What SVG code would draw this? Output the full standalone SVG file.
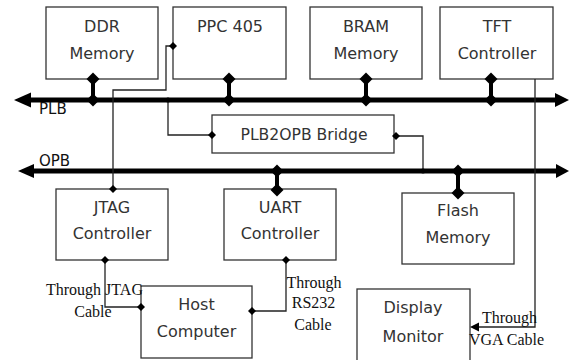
<svg xmlns="http://www.w3.org/2000/svg" width="572" height="360" viewBox="0 0 572 360">
<style>
.box{fill:#fff;stroke:#333;stroke-width:1.3}
.t{font-family:"DejaVu Sans",sans-serif;font-size:16px;fill:#333;text-anchor:middle}
.bl{font-family:"DejaVu Sans",sans-serif;font-size:15px;fill:#111}
.s{font-family:"Liberation Serif","Times New Roman",serif;font-size:16px;fill:#111}
.bus{stroke:#000;stroke-width:5;fill:none}
.stem{stroke:#000;stroke-width:4;fill:none}
.w{stroke:#222;stroke-width:1.3;fill:none}
.k{fill:#000}
</style>
<defs>
<polygon id="bd" points="0,-6.5 6.5,0 0,6.5 -6.5,0" fill="#000"/>
<polygon id="sd" points="0,-4 4,0 0,4 -4,0" fill="#000"/>
</defs>
<rect width="572" height="360" fill="#fff"/>

<g id="ddr"><rect class="box" x="46" y="7" width="112" height="72"/>
<text class="t" x="102" y="32">DDR</text><text class="t" x="102" y="59">Memory</text></g>
<g id="ppc"><rect class="box" x="173" y="7" width="113" height="72"/>
<text class="t" x="230" y="32">PPC 405</text></g>
<g id="bram"><rect class="box" x="310" y="7" width="112" height="72"/>
<text class="t" x="366" y="32">BRAM</text><text class="t" x="366" y="59">Memory</text></g>
<g id="tft"><rect class="box" x="440" y="7" width="113" height="72"/>
<text class="t" x="497" y="32">TFT</text><text class="t" x="497" y="59">Controller</text></g>
<g id="bridge"><rect class="box" x="212" y="115" width="182" height="38"/>
<text class="t" x="304" y="140" textLength="127" lengthAdjust="spacingAndGlyphs">PLB2OPB Bridge</text></g>
<g id="jtag"><rect class="box" x="56" y="189" width="112" height="71"/>
<text class="t" x="112" y="213">JTAG</text><text class="t" x="112" y="239">Controller</text></g>
<g id="uart"><rect class="box" x="224" y="189" width="112" height="71"/>
<text class="t" x="280" y="213">UART</text><text class="t" x="280" y="239">Controller</text></g>
<g id="flash"><rect class="box" x="402" y="193" width="112" height="71"/>
<text class="t" x="458" y="216">Flash</text><text class="t" x="458" y="243">Memory</text></g>
<g id="host"><rect class="box" x="141" y="286" width="111" height="72"/>
<text class="t" x="196.5" y="310">Host</text><text class="t" x="196.5" y="337">Computer</text></g>
<g id="display"><rect class="box" x="357" y="289" width="113" height="80"/>
<text class="t" x="413" y="313">Display</text><text class="t" x="413" y="342">Monitor</text></g>

<g id="connectors">
  <line class="bus" x1="28" y1="100" x2="557" y2="100"/>
  <polygon class="k" points="14,100 31,92.5 31,107.5"/>
  <polygon class="k" points="569,100 555,93 555,107"/>
  <line class="bus" x1="31" y1="171" x2="557" y2="171"/>
  <polygon class="k" points="18,171 34,164 34,178"/>
  <polygon class="k" points="569,171 556,164 556,178"/>
  <line class="stem" x1="93" y1="79" x2="93" y2="100"/>
  <use href="#bd" x="93" y="79"/><use href="#bd" x="93" y="100"/>
  <line class="stem" x1="229" y1="79" x2="229" y2="100"/>
  <use href="#bd" x="229" y="79"/><use href="#bd" x="229" y="100"/>
  <line class="stem" x1="366" y1="79" x2="366" y2="100"/>
  <use href="#bd" x="366" y="79"/><use href="#bd" x="366" y="100"/>
  <line class="stem" x1="491" y1="79" x2="491" y2="100"/>
  <use href="#bd" x="491" y="79"/><use href="#bd" x="491" y="100"/>
  <line class="stem" x1="277" y1="171" x2="277" y2="190"/>
  <use href="#bd" x="277" y="171"/><use href="#bd" x="277" y="190"/>
  <line class="stem" x1="458" y1="171" x2="458" y2="193"/>
  <use href="#bd" x="458" y="171"/><use href="#bd" x="458" y="193"/>
  <path class="w" d="M173,46 H166 V90 H113 V189"/>
  <path class="w" d="M168,100 V135 H212"/>
  <path class="w" d="M396,136 H423 V171"/>
  <path class="w" d="M105,260 V307 H141"/>
  <path class="w" d="M286,260 V311 H252"/>
  <path class="w" d="M535,79 V327 H478"/>
  <polygon class="k" points="470,327 479,322.5 479,331.5"/>
  <use href="#sd" x="173" y="46"/>
  <use href="#sd" x="113" y="189"/>
  <use href="#sd" x="212" y="135"/>
  <use href="#sd" x="396" y="136"/>
  <use href="#sd" x="105" y="260"/>
  <use href="#sd" x="141" y="307"/>
  <use href="#sd" x="252" y="311"/>
  <use href="#sd" x="286" y="260"/>
  <circle class="k" cx="168" cy="100" r="2.5"/>
  <circle class="k" cx="423" cy="171" r="2.5"/>
</g>

<g id="labels">
<text class="bl" x="39" y="114">PLB</text>
<text class="bl" x="39" y="166">OPB</text>
<text class="s" x="46" y="295">Through JTAG</text>
<text class="s" x="93" y="317" text-anchor="middle">Cable</text>
<text class="s" x="314" y="288" text-anchor="middle">Through</text>
<text class="s" x="313.5" y="308" text-anchor="middle">RS232</text>
<text class="s" x="313" y="330" text-anchor="middle">Cable</text>
<text class="s" x="482" y="323">Through</text>
<text class="s" x="469" y="345">VGA Cable</text>
</g>
</svg>
